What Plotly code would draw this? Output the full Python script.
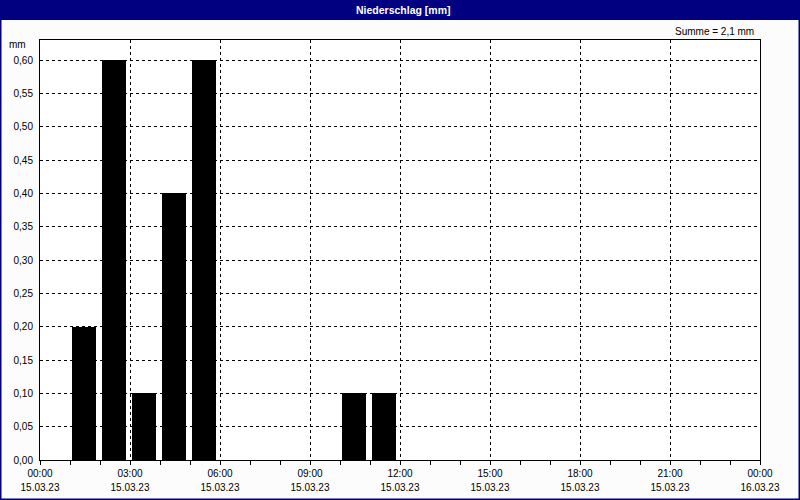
import plotly.graph_objects as go

# ---- data ----
interval_start = ["2023-03-15 01:00", "2023-03-15 02:00", "2023-03-15 03:00",
                  "2023-03-15 04:00", "2023-03-15 05:00", "2023-03-15 10:00",
                  "2023-03-15 11:00"]
precip_mm = [0.20, 0.60, 0.10, 0.40, 0.60, 0.10, 0.10]

tick_times = ["2023-03-15 00:00", "2023-03-15 03:00", "2023-03-15 06:00",
              "2023-03-15 09:00", "2023-03-15 12:00", "2023-03-15 15:00",
              "2023-03-15 18:00", "2023-03-15 21:00", "2023-03-16 00:00"]
tick_time_labels = ["00:00", "03:00", "06:00", "09:00", "12:00",
                    "15:00", "18:00", "21:00", "00:00"]
tick_date_labels = ["15.03.23", "15.03.23", "15.03.23", "15.03.23", "15.03.23",
                    "15.03.23", "15.03.23", "15.03.23", "16.03.23"]
y_ticks = [0, 0.05, 0.10, 0.15, 0.20, 0.25, 0.30, 0.35, 0.40, 0.45, 0.50, 0.55, 0.60]

title_text = "Niederschlag [mm]"
sum_text = "Summe = 2,1 mm"
unit_text = "mm"

FONT = "Liberation Sans"
BLUE = "#000080"
HOUR_MS = 3600000
X_RANGE = ["2023-03-15 00:00", "2023-03-16 00:00"]

# pixel helpers (plot area: x 40..760, y 40..460)
def px_x(px):
    return (px - 40) / 720.0

def px_y(py):
    return (460 - py) / 420.0

fig = go.Figure()
fig.add_trace(go.Bar(
    x=interval_start,
    y=precip_mm,
    width=[0.8 * HOUR_MS] * len(precip_mm),
    offset=[HOUR_MS * 4 / 60] * len(precip_mm),
    marker=dict(color="#000000", line=dict(width=0)),
    hoverinfo="skip",
))

fig.update_layout(
    width=800, height=500,
    margin=dict(l=40, r=40, t=40, b=40, autoexpand=False),
    paper_bgcolor="#fbfcfb",
    plot_bgcolor="#ffffff",
    separators=",.",
    showlegend=False,
    font=dict(family=FONT, size=10, color="#000000"),
    bargap=0,
    xaxis=dict(
        type="date",
        automargin=False,
        range=X_RANGE,
        tickvals=tick_times,
        ticktext=tick_time_labels,
        ticks="outside", ticklen=4, tickcolor="#000000",
        showgrid=True, gridcolor="#000000", gridwidth=1, griddash="3px,3px",
        showline=True, linecolor="#000000", linewidth=1, mirror=True,
        zeroline=False,
        minor=dict(dtick=HOUR_MS, tick0="2023-03-15 00:00", ticks="outside",
                   ticklen=4, tickcolor="#000000", showgrid=False),
        tickfont=dict(family=FONT, size=10),
        ticklabelstandoff=0,
    ),
    xaxis2=dict(
        type="date",
        overlaying="x",
        anchor="y",
        side="bottom",
        automargin=False,
        range=X_RANGE,
        tickvals=tick_times,
        ticktext=tick_date_labels,
        ticks="",
        showgrid=False, showline=False, zeroline=False,
        tickfont=dict(family=FONT, size=10),
        ticklabelstandoff=20,
    ),
    yaxis=dict(
        automargin=False,
        range=[0, 0.63],
        tickvals=y_ticks,
        tickformat=".2f",
        ticks="",
        showgrid=True, gridcolor="#000000", gridwidth=1, griddash="3px,3px",
        showline=True, linecolor="#000000", linewidth=1, mirror=True,
        zeroline=False,
        ticklabelstandoff=4,
        tickfont=dict(family=FONT, size=10),
    ),
)

# invisible trace to activate the date-label axis
fig.add_trace(go.Scatter(x=X_RANGE, y=[None, None], xaxis="x2", yaxis="y",
                         mode="lines", hoverinfo="skip", showlegend=False))

# title bar and window border
fig.add_shape(type="rect", xref="paper", yref="paper",
              x0=px_x(0), x1=px_x(800), y0=px_y(20), y1=px_y(0),
              fillcolor=BLUE, line=dict(width=0), layer="below")
fig.add_shape(type="rect", xref="paper", yref="paper",
              x0=px_x(0.5), x1=px_x(799.5), y0=px_y(499.5), y1=px_y(0.5),
              fillcolor="rgba(0,0,0,0)", line=dict(color=BLUE, width=2))

fig.add_annotation(text="<b>" + title_text + "</b>", xref="paper", yref="paper",
                   x=px_x(403), y=px_y(10), showarrow=False,
                   font=dict(family=FONT, size=10.5, color="#ffffff"),
                   xanchor="center", yanchor="middle")
fig.add_annotation(text=sum_text, xref="paper", yref="paper",
                   x=px_x(756), y=px_y(31), showarrow=False,
                   font=dict(family=FONT, size=10), xanchor="right", yanchor="middle")
fig.add_annotation(text=unit_text, xref="paper", yref="paper",
                   x=px_x(28), y=px_y(45), showarrow=False,
                   font=dict(family=FONT, size=10), xanchor="right", yanchor="middle")

fig.write_html("out.html",
               config={"displayModeBar": False, "staticPlot": True},
               post_script="document.body.style.margin='0';document.body.style.overflow='hidden';")
